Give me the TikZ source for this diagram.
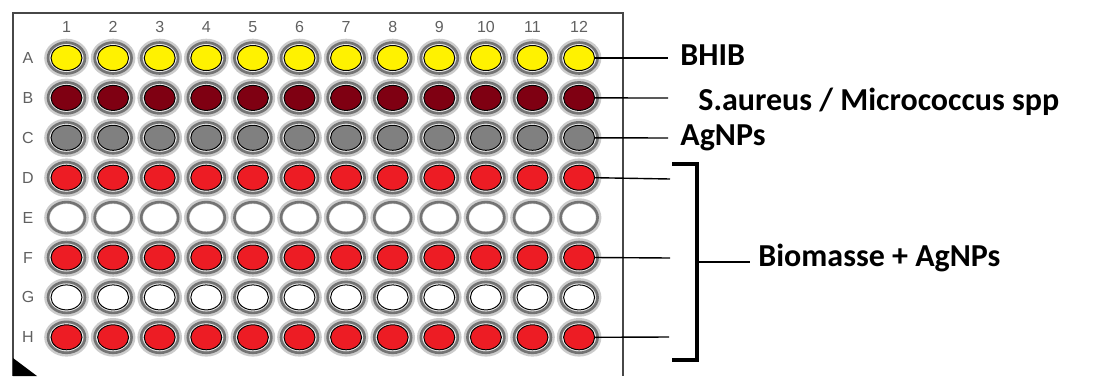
\documentclass[tikz,border=0pt]{standalone}
\usepackage{fontspec}
\setmainfont{Carlito}
\newfontfamily\idxfont{Liberation Sans}
\usetikzlibrary{shapes.geometric}

\definecolor{wellyellow}{HTML}{FFF200}
\definecolor{wellbrown}{HTML}{7F0012}
\definecolor{wellgray}{HTML}{808080}
\definecolor{wellred}{HTML}{ED1C24}
\definecolor{plategray}{HTML}{474747}

\tikzset{
  well/.style={ellipse, line width=0.5pt, inner sep=0pt,
    minimum width=15.5pt, minimum height=12.5pt},
  ring/.style={draw=gray!90!black, line width=1.3pt},
  halo/.style={draw=gray!40, line width=2.8pt},
  lead/.style={draw=black, line width=0.7pt},
  tag/.style={anchor=west, inner sep=0pt,
    font=\fontsize{16}{18}\selectfont\bfseries},
  idx/.style={text=gray!75!black, inner sep=0pt, font=\idxfont\fontsize{8}{9}\selectfont},
}

\begin{document}
\begin{tikzpicture}[x=0.5pt, y=-0.5pt]
  \useasboundingbox (0,0) rectangle (1093,376);

  % plate
  \draw[plategray, line width=1pt] (13,376) -- (13,13) -- (623,13) -- (623,376);
  \fill[black] (13,358) -- (37,376) -- (13,376) -- cycle;

  % column numbers
  \foreach \c in {1, ..., 12} {
    \pgfmathsetmacro{\x}{66.5+46.6*(\c-1)}
    \node[idx] (col\c) at (\x,27) {\c};
  }

  % rows of wells
  \foreach \r/\col/\rim [count=\i from 0] in {A/wellyellow/black, B/wellbrown/black,
      C/wellgray/black, D/wellred/black, E/white/none, F/wellred/black,
      G/white/black, H/wellred/black} {
    \pgfmathsetmacro{\y}{58+39.9*\i}
    \node[idx] (row\r) at (28,\y) {\r};
    \foreach \c in {1, ..., 12} {
      \pgfmathsetmacro{\x}{66.5+46.6*(\c-1)}
      \draw[halo] (\x,\y) ellipse (19.5 and 16.5);
      \draw[ring] (\x,\y) ellipse (18.5 and 15.5);
      \node[well, fill=\col, draw=\rim] (\r\c) at (\x,\y) {};
    }
  }

  % labels
  \node[tag] (bhib) at (680,55) {BHIB};
  \node[tag] (staph) at (698,102) {S.aureus / Micrococcus spp};
  \node[tag] (agnp) at (680,138) {AgNPs};
  \node[tag] (biom) at (758,258) {Biomasse + AgNPs};

  \coordinate (endA) at (668,58);
  \coordinate (endB) at (668,98);
  \coordinate (endC) at (668,138);
  \coordinate (endD) at (670,179);
  \coordinate (endF) at (670,258);
  \coordinate (endH) at (669,337);
  \foreach \r in {A, B, C, D, F, H}
    \draw[lead] (\r12.east) -- (end\r);

  % bracket
  \coordinate (brTop) at (672,164);
  \coordinate (brBot) at (672,360);
  \coordinate (brMid) at (697,262);
  \draw[line width=2pt] (brTop) -| (brBot -| brMid) -- (brBot);
  \draw[line width=1.4pt, shorten >=4pt] (brMid) -- (brMid -| biom.west);
\end{tikzpicture}
\end{document}
